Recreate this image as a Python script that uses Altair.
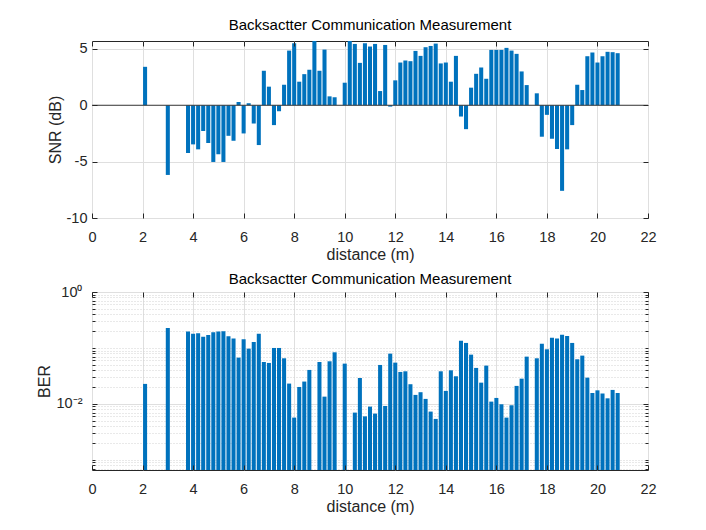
import altair as alt
import pandas as pd

# ---------------- data ----------------
distance = [2.1, 3.0,
            3.8, 4.0, 4.2, 4.4, 4.6, 4.8, 5.0, 5.2, 5.4, 5.6,
            5.8, 6.0, 6.2, 6.4, 6.6, 6.8, 7.0, 7.2, 7.4, 7.6,
            7.8, 8.0, 8.2, 8.4, 8.6, 8.8, 9.0, 9.2, 9.4, 9.6,
            10.0, 10.2, 10.4, 10.6, 10.8, 11.0, 11.2, 11.4, 11.6, 11.8,
            12.0, 12.2, 12.4, 12.6, 12.8, 13.0, 13.2, 13.4, 13.6, 13.8,
            14.0, 14.2, 14.4, 14.6, 14.8, 15.0, 15.2, 15.4, 15.6, 15.8,
            16.0, 16.2, 16.4, 16.6, 16.8, 17.0, 17.2, 17.6, 17.8, 18.0,
            18.2, 18.4, 18.6, 18.8, 19.0, 19.2, 19.4, 19.6, 19.8, 20.0,
            20.2, 20.4, 20.6, 20.8]

snr_db = [3.41, -6.18,
          -4.24, -3.47, -3.91, -2.29, -3.35, -5.03, -4.35, -5.03, -2.71, -3.15,
          0.29, -2.50, 0.18, -1.62, -3.53, 3.06, 1.65, -1.76, -0.53, 1.82,
          4.85, 5.50, 2.09, 2.76, 3.15, 5.70, 3.06, 4.94, 0.79, 0.71,
          2.00, 5.70, 5.44, 3.76, 5.50, 5.21, 5.44, 1.26, 5.35, -0.12,
          2.21, 3.79, 3.97, 3.91, 4.82, 4.38, 5.15, 5.26, 5.47, 3.71,
          3.79, 2.09, 4.38, -1.00, -2.12, 1.56, 2.79, 3.35, 2.35, 4.91,
          4.91, 4.91, 5.09, 4.85, 4.56, 3.00, 1.79, 1.06, -2.79, -0.85,
          -2.97, -3.88, -7.59, -3.91, -1.76, 1.82, 1.35, 4.35, 4.68, 3.79,
          4.35, 4.74, 4.71, 4.62]

ber = [0.0228, 0.228,
       0.196, 0.180, 0.183, 0.159, 0.171, 0.190, 0.196, 0.199, 0.162, 0.147,
       0.0672, 0.143, 0.0973, 0.128, 0.180, 0.0562, 0.054, 0.100, 0.100, 0.0654,
       0.0231, 0.0057, 0.0201, 0.0251, 0.0405, 0.0, 0.0562, 0.0135, 0.0578, 0.0837,
       0.0525, 0.0, 0.0070, 0.0291, 0.0060, 0.00896, 0.00672, 0.0497, 0.0092, 0.0792,
       0.0547, 0.0373, 0.0383, 0.0225, 0.0145, 0.0162, 0.0123, 0.0073, 0.0054, 0.0383,
       0.0171, 0.0399, 0.0312, 0.135, 0.123, 0.076, 0.044, 0.024, 0.0484, 0.0110,
       0.0128, 0.00986, 0.0057, 0.00947, 0.0210, 0.0283, 0.070, 0.0654, 0.119, 0.0947,
       0.153, 0.147, 0.173, 0.164, 0.123, 0.0628, 0.073, 0.0295, 0.0157, 0.0175,
       0.0153, 0.0126, 0.0178, 0.0157]

x_ticks = [0, 2, 4, 6, 8, 10, 12, 14, 16, 18, 20, 22]
snr_ticks = [-10, -5, 0, 5]
ber_major = [0.01, 1.0]
ber_minor = [0.0007, 0.0008, 0.0009, 0.001,
             0.002, 0.003, 0.004, 0.005, 0.006, 0.007, 0.008, 0.009,
             0.02, 0.03, 0.04, 0.05, 0.06, 0.07, 0.08, 0.09, 0.1,
             0.2, 0.3, 0.4, 0.5, 0.6, 0.7, 0.8, 0.9]

TITLE = "Backsactter Communication Measurement"

# ---------------- styles ----------------
FONT = "Liberation Sans"
TXT = "#262626"
GRID = "#dfdfdf"
MINOR = "#d2d2d2"
BLUE = "#0072BD"
W, H1, H2 = 556, 177, 178
HALF = 0.08
BER_MIN = 6.6e-4

df = pd.DataFrame({"distance": distance, "snr": snr_db, "ber": ber})
df["x0"] = df["distance"] - HALF
df["x1"] = df["distance"] + HALF
df["zero"] = 0.0
df["floor"] = BER_MIN
df_ber = df[df["ber"] > 0].reset_index(drop=True)
base_df = pd.DataFrame({"zero": [0.0]})

xscale = alt.Scale(domain=[0, 22], nice=False, zero=False, padding=0)
snr_scale = alt.Scale(domain=[-10, 5.7], nice=False, zero=False, padding=0)
ber_scale = alt.Scale(type="log", domain=[BER_MIN, 1.0], nice=False, padding=0)

MINUS_FIX = "replace(datum.label, '\u2212', '-')"


def label_axis(orient, values, title, pad, label_expr=MINUS_FIX, title_pad=3):
    return alt.Axis(orient=orient, values=values, grid=True, gridColor=GRID, gridWidth=1,
                    ticks=False, domain=False, labelPadding=pad, title=title,
                    titlePadding=title_pad, zindex=0, labelFlush=False,
                    labelOverlap=False, labelExpr=label_expr)


def tick_axis(orient, values, size=5, grid=False):
    kw = dict(orient=orient, values=values, labels=False, domain=False,
              ticks=True, tickSize=size, offset=-size, tickColor=TXT, tickWidth=1,
              title=None, grid=grid, zindex=0 if grid else 1)
    if grid:
        kw.update(gridColor=MINOR, gridDash=[1, 2], gridWidth=1)
    return alt.Axis(**kw)


def title_params(offset):
    return alt.TitleParams(TITLE, font=FONT, fontSize=15, fontWeight="normal",
                           color="#000000", offset=offset, anchor="middle")

# ---------------- SNR panel ----------------
snr_bars = alt.Chart(df).mark_bar(color=BLUE, clip=True, orient="vertical").encode(
    x=alt.X("x0:Q", scale=xscale,
            axis=label_axis("bottom", x_ticks, "distance (m)", 12)),
    x2="x1:Q",
    y=alt.Y("snr:Q", scale=snr_scale,
            axis=label_axis("left", snr_ticks, "SNR (dB)", 5)),
    y2="zero:Q",
)
snr_base = alt.Chart(base_df).mark_rule(color="#3a3a3a", strokeWidth=1).encode(
    y=alt.Y("zero:Q", scale=snr_scale, axis=None)
)
snr_t1 = alt.Chart(df).mark_point(opacity=0).encode(
    x=alt.X("distance:Q", scale=xscale, axis=tick_axis("bottom", x_ticks)),
    y=alt.Y("snr:Q", scale=snr_scale, axis=tick_axis("left", snr_ticks)),
)
snr_t2 = alt.Chart(df).mark_point(opacity=0).encode(
    x=alt.X("distance:Q", scale=xscale, axis=tick_axis("top", x_ticks)),
    y=alt.Y("snr:Q", scale=snr_scale, axis=tick_axis("right", snr_ticks)),
)
top = alt.layer(snr_bars, snr_base, snr_t1, snr_t2).resolve_axis(
    x="independent", y="independent"
).properties(width=W, height=H1, title=title_params(5))

# ---------------- BER panel ----------------
ber_label = "datum.value >= 1 ? '10\u2070' : '10\u207b\u00b2'"
ber_bars = alt.Chart(df_ber).mark_bar(color=BLUE, clip=True, orient="vertical").encode(
    x=alt.X("x0:Q", scale=xscale,
            axis=label_axis("bottom", x_ticks, "distance (m)", 12)),
    x2="x1:Q",
    y=alt.Y("ber:Q", scale=ber_scale,
            axis=label_axis("left", ber_major, "BER", 10, ber_label, title_pad=4)),
    y2="floor:Q",
)
ber_t1 = alt.Chart(df_ber).mark_point(opacity=0).encode(
    x=alt.X("distance:Q", scale=xscale, axis=tick_axis("bottom", x_ticks)),
    y=alt.Y("ber:Q", scale=ber_scale, axis=tick_axis("left", ber_major)),
)
ber_t2 = alt.Chart(df_ber).mark_point(opacity=0).encode(
    x=alt.X("distance:Q", scale=xscale, axis=tick_axis("top", x_ticks)),
    y=alt.Y("ber:Q", scale=ber_scale, axis=tick_axis("right", ber_major)),
)
ber_t3 = alt.Chart(df_ber).mark_point(opacity=0).encode(
    x=alt.X("distance:Q", scale=xscale, axis=None),
    y=alt.Y("ber:Q", scale=ber_scale, axis=tick_axis("left", ber_minor, 3, grid=True)),
)
ber_t4 = alt.Chart(df_ber).mark_point(opacity=0).encode(
    x=alt.X("distance:Q", scale=xscale, axis=None),
    y=alt.Y("ber:Q", scale=ber_scale, axis=tick_axis("right", ber_minor, 3)),
)
bottom = alt.layer(ber_t3, ber_bars, ber_t1, ber_t2, ber_t4).resolve_axis(
    x="independent", y="independent"
).properties(width=W, height=H2, title=title_params(-3))

chart = alt.vconcat(top, bottom, spacing=8).properties(
    padding={"left": 27, "top": 9, "right": 5, "bottom": 5},
    background="white",
).configure_view(
    stroke=TXT, strokeWidth=1
).configure_axis(
    labelFont=FONT, labelFontSize=14.5, labelColor=TXT,
    titleFont=FONT, titleFontSize=16, titleColor=TXT, titleFontWeight="normal",
)

chart.save("out.html", embed_options={"renderer": "svg", "actions": False})
